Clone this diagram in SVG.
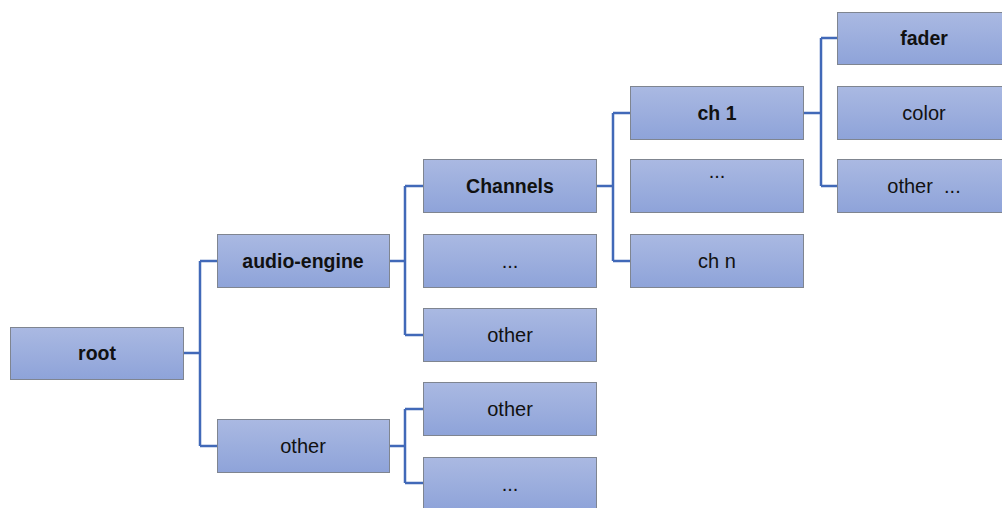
<svg xmlns="http://www.w3.org/2000/svg" width="1002" height="508" viewBox="0 0 1002 508">
<defs>
<linearGradient id="g" x1="0" y1="0" x2="0" y2="1">
<stop offset="0" stop-color="#aab9e2"/>
<stop offset="1" stop-color="#8ea3d9"/>
</linearGradient>
<style>
.b{fill:url(#g);stroke:#7f8590;stroke-width:1}
.t{font-family:"Liberation Sans","Open Sans",Arial,sans-serif;font-size:20px;fill:#111;text-anchor:middle}
.bold{font-weight:bold;font-size:19.5px}
.c{fill:none;stroke:#4169b8;stroke-width:2.5}
</style>
</defs>
<rect width="1002" height="508" fill="#fff"/>
<g id="connectors">
<path class="c" d="M183 353H200M200 261V446M200 261H217M200 446H217"/>
<path class="c" d="M389 261H405M405 186V335M405 186H424M405 335H424"/>
<path class="c" d="M389 446H405M405 409V483M405 409H424M405 483H424"/>
<path class="c" d="M597 186H613M613 113V261M613 113H630M613 261H630"/>
<path class="c" d="M803 113H821M821 38V186M821 38H837M821 186H837"/>
</g>
<g id="root"><rect class="b" x="10.5" y="327.5" width="173" height="52"/><text class="t bold" x="97" y="360">root</text></g>
<g id="audio-engine"><rect class="b" x="217.5" y="234.5" width="172" height="53"/><text class="t bold" x="303" y="268">audio-engine</text></g>
<g id="other1"><rect class="b" x="217.5" y="419.5" width="172" height="53"/><text class="t" x="303" y="453">other</text></g>
<g id="channels"><rect class="b" x="423.5" y="159.5" width="173" height="53"/><text class="t bold" x="510" y="193">Channels</text></g>
<g id="dots1"><rect class="b" x="423.5" y="234.5" width="173" height="53"/><text class="t" x="510" y="268">...</text></g>
<g id="other2"><rect class="b" x="423.5" y="308.5" width="173" height="53"/><text class="t" x="510" y="342">other</text></g>
<g id="other3"><rect class="b" x="423.5" y="382.5" width="173" height="53"/><text class="t" x="510" y="416">other</text></g>
<g id="dots2"><rect class="b" x="423.5" y="457.5" width="173" height="53"/><text class="t" x="510" y="491">...</text></g>
<g id="ch1"><rect class="b" x="630.5" y="86.5" width="173" height="53"/><text class="t bold" x="717" y="120">ch 1</text></g>
<g id="dots3"><rect class="b" x="630.5" y="159.5" width="173" height="53"/><text class="t" x="717" y="178">...</text></g>
<g id="chn"><rect class="b" x="630.5" y="234.5" width="173" height="53"/><text class="t" x="717" y="268">ch n</text></g>
<g id="fader"><rect class="b" x="837.5" y="12.5" width="180" height="52"/><text class="t bold" x="924" y="45">fader</text></g>
<g id="color"><rect class="b" x="837.5" y="86.5" width="180" height="53"/><text class="t" x="924" y="120">color</text></g>
<g id="other4"><rect class="b" x="837.5" y="159.5" width="180" height="53"/><text class="t" x="924" y="193" xml:space="preserve">other  ...</text></g>
</svg>
